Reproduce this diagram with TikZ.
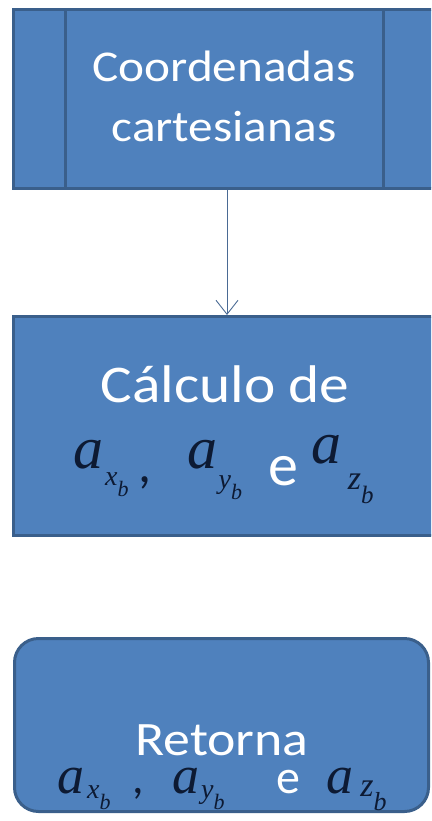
\documentclass[tikz,border=0pt]{standalone}
\usepackage{fontspec}
\setmainfont{Carlito}
\newfontfamily\timesf{Liberation Serif}
\usetikzlibrary{arrows.meta}
\definecolor{boxfill}{HTML}{4F81BD}
\definecolor{boxline}{HTML}{3A5F8B}
\definecolor{arrowc}{HTML}{4A6A94}
\definecolor{mathc}{HTML}{0D1A33}
% #1 size of a, #2 size of sub, #3 size of subsub, #4 drop of sub, #5 gap, #6 letter
\newcommand{\accv}[6]{{\color{mathc}\timesf\itshape\fontsize{#1}{#1}\selectfont a\hspace{#5}\raisebox{-#4}{\fontsize{#2}{#2}\selectfont #6\raisebox{-0.42em}{\fontsize{#3}{#3}\selectfont b}}}}
\newcommand{\hs}[1]{\scalebox{1.12}[1]{#1}}
\tikzset{
  boxstyle/.style={draw=boxline, fill=boxfill, line width=3pt, inner sep=0pt},
  txt/.style={text=white, inner sep=0pt, anchor=base},
  conn/.style={arrowc, line width=0.9pt, -{Straight Barb[length=14pt,width=22pt,line width=0.9pt]}}
}
\begin{document}
\begin{tikzpicture}[x=1pt,y=-1pt]
\useasboundingbox (0,0) rectangle (431,821);
\clip (0,0) rectangle (431,821);
% box 1 : predefined process
\node[boxstyle, minimum width=422pt, minimum height=178pt] (b1) at (224,99) {};
\draw[boxline, line width=3pt] (65,10) -- (65,188) (383,10) -- (383,188);
\node[txt] (t1a) at (224,82) {\fontsize{44}{44}\selectfont\hs{Coordenadas}};
\node[txt] (t1b) at (224,142) {\fontsize{44}{44}\selectfont\hs{cartesianas}};
% box 2
\node[boxstyle, minimum width=422pt, minimum height=219pt] (b2) at (224,426) {};
\node[txt] (t2a) at (225,402) {\fontsize{53}{53}\selectfont\hs{Cálculo de}};
\node[txt, anchor=base west] (t2b) at (73,468) {\accv{60pt}{28pt}{22pt}{17pt}{2pt}{x}\hspace{10pt}{\color{mathc}\fontsize{52}{52}\selectfont\raisebox{-14pt}{,}}\hspace{36pt}\accv{60pt}{28pt}{22pt}{20pt}{1pt}{y}\hspace{26pt}\raisebox{-17pt}{\fontsize{60}{60}\selectfont e}\hspace{14pt}\raisebox{5pt}{\accv{60pt}{34pt}{25pt}{26pt}{6pt}{z}}};
% box 3
\node[boxstyle, rounded corners=24pt, minimum width=414pt, minimum height=173pt] (b3) at (221.5,725) {};
\node[txt] (t3a) at (222,755) {\fontsize{48}{48}\selectfont\hs{Retorna}};
\node[txt, anchor=base west] (t3b) at (57,793) {\accv{54pt}{28pt}{22pt}{5pt}{3pt}{x}\hspace{22pt}{\color{mathc}\fontsize{46}{46}\selectfont,}\hspace{28pt}\accv{54pt}{28pt}{22pt}{5pt}{2pt}{y}\hspace{52pt}{\fontsize{48}{48}\selectfont e}\hspace{26pt}\accv{54pt}{34pt}{26pt}{3pt}{7pt}{z}};
% connector
\draw[conn] ([xshift=3pt]b1.south) -- ([xshift=3pt]b2.north);
\end{tikzpicture}
\end{document}
